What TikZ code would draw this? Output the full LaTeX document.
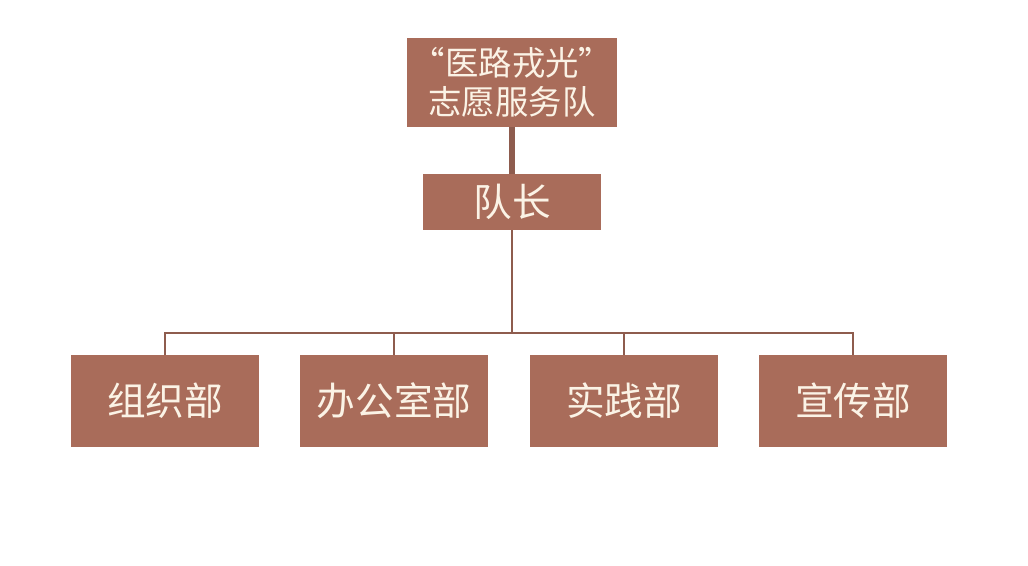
\documentclass[tikz,border=0pt]{standalone}
\usepackage{fontspec}
\newfontfamily\cjk{Noto Sans CJK SC}
\usetikzlibrary{positioning,calc}
\definecolor{boxfill}{HTML}{A96C5A}
\definecolor{linkcol}{HTML}{8E5C4E}
\definecolor{boxtext}{HTML}{FBF3E6}
\begin{document}
\begin{tikzpicture}[x=0.02cm,y=-0.02cm,
        dept/.style={fill=boxfill, text=boxtext, font=\cjk\fontsize{22}{26}\selectfont,
          align=center, inner sep=0pt, minimum width=3.76cm, minimum height=1.84cm},
        link/.style={draw=linkcol, line width=0.7pt}]
\useasboundingbox (0,0) rectangle (1028,565);

\node[dept, minimum width=4.2cm, minimum height=1.78cm, font=\cjk\fontsize{19}{22}\selectfont] (team) at (512,82.5) {“医路戎光”\\志愿服务队};
\node[dept, minimum width=3.56cm, minimum height=1.12cm] (lead) at (512,202) {队长};

\node[dept] (d1) at (165,401) {组织部};
\node[dept] (d2) at (394,401) {办公室部};
\node[dept] (d3) at (624,401) {实践部};
\node[dept] (d4) at (853,401) {宣传部};

\draw[link, line width=3.5pt] (team.south) -- (lead.north);
\coordinate (bus) at (512,333);
\draw[link] (lead.south) -- (bus);
\foreach \d in {d1,d2,d3,d4}
  \draw[link] (bus) -| (\d.north);
\end{tikzpicture}
\end{document}
